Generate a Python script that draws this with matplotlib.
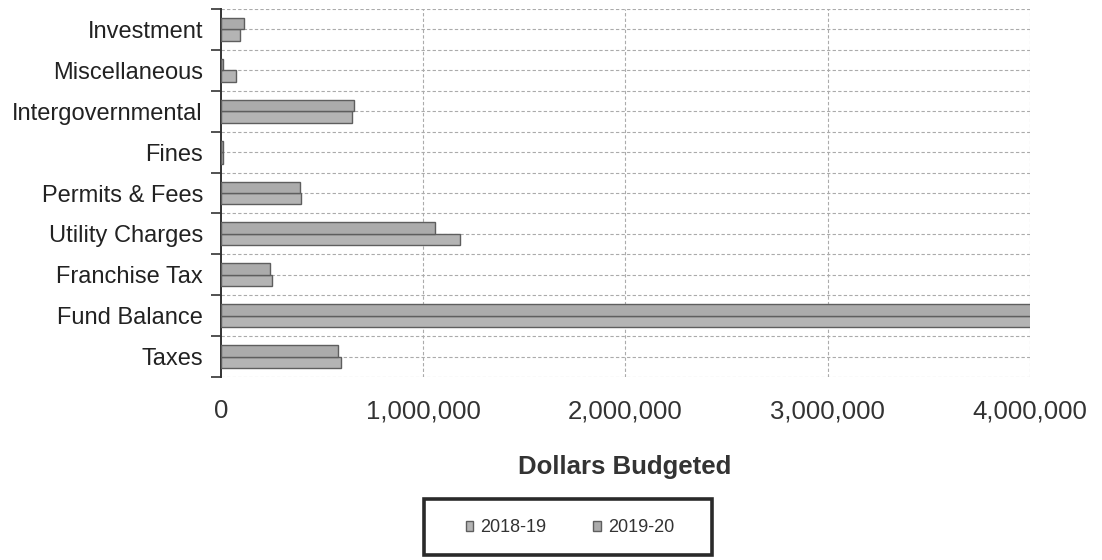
import numpy as np
import matplotlib
matplotlib.use('Agg')
import matplotlib.pyplot as plt
from matplotlib.patches import Rectangle
from matplotlib.ticker import FuncFormatter

plt.rcParams['font.family'] = ['Liberation Sans', 'DejaVu Sans']

# categories listed bottom to top
categorias = ['Taxes', 'Fund Balance', 'Franchise Tax', 'Utility Charges',
              'Permits & Fees', 'Fines', 'Intergovernmental',
              'Miscellaneous', 'Investment']
presupuesto_1819 = [592000, 4300000, 254000, 1181000, 395000, 10000, 646000, 74000, 94000]
presupuesto_1920 = [577000, 4500000, 242000, 1058000, 390000, 10000, 657000, 10000, 114000]
series = ['2018-19', '2019-20']
ticks_x = [0, 1000000, 2000000, 3000000, 4000000]

fig = plt.figure(figsize=(11.02, 5.60), dpi=100)
ax = fig.add_axes([0.2005, 0.3268, 0.7341, 0.6571])

y = np.arange(len(categorias))
alto = 0.28
ax.barh(y - alto / 2, presupuesto_1819, height=alto, color='#b4b4b4',
        edgecolor='#5e5e5e', linewidth=1.0, label=series[0], zorder=3)
ax.barh(y + alto / 2, presupuesto_1920, height=alto, color='#ababab',
        edgecolor='#5e5e5e', linewidth=1.0, label=series[1], zorder=3)

ax.set_xlim(0, 4000000)
ax.set_ylim(-0.5, len(categorias) - 0.5)

# gridlines: category borders and centres, plus the million marks
for yy in np.arange(-0.5, len(categorias), 0.5):
    ax.axhline(yy, color='#ababab', lw=0.8, ls=(0, (3, 2)), zorder=1)
for xx in ticks_x[1:]:
    ax.axvline(xx, color='#ababab', lw=0.8, ls=(0, (3, 2)), zorder=1)

ax.set_xticks(ticks_x)
ax.xaxis.set_major_formatter(FuncFormatter(lambda v, p: f'{int(v):,}'))
ax.tick_params(axis='x', length=0, pad=16, labelsize=18.5, labelcolor='#333333')

ax.set_yticks(np.arange(-0.5, len(categorias), 1.0))
ax.set_yticklabels([])
ax.tick_params(axis='y', which='major', length=7, width=1.2, color='#333333')
ax.set_yticks(y, minor=True)
ax.set_yticklabels(categorias, minor=True)
ax.tick_params(axis='y', which='minor', length=0, pad=13, labelsize=17,
               labelcolor='#222222')

for lado in ['top', 'right', 'bottom']:
    ax.spines[lado].set_visible(False)
ax.spines['left'].set_color('#333333')
ax.spines['left'].set_linewidth(1.4)

fig.text(0.567, 0.166, 'Dollars Budgeted', ha='center', va='center',
         fontsize=18.5, fontweight='bold', color='#333333')

# legend box
fig.patches.append(Rectangle((424 / 1102, 1 - 555 / 560), 288 / 1102, 56 / 560,
                             transform=fig.transFigure, fill=False,
                             edgecolor='#2a2a2a', linewidth=2.6))
fig.legend(loc='center', bbox_to_anchor=(570 / 1102, 1 - 528 / 560), ncol=2,
           frameon=False, fontsize=13, handlelength=0.4, handleheight=0.4,
           handletextpad=0.4, columnspacing=2.6, labelcolor='#333333')

fig.savefig('out.png', dpi=100, facecolor='white')
